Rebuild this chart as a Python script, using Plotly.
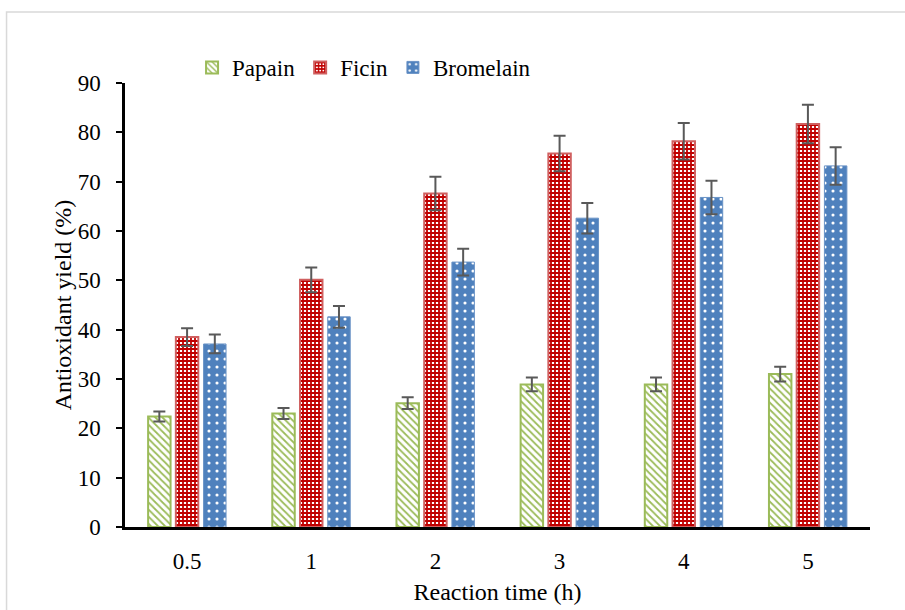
import plotly.graph_objects as go

# Reaction-time categories and mean antioxidant yields (%) with error margins
times = ["0.5", "1", "2", "3", "4", "5"]
papain = [22.4, 23.0, 25.1, 28.9, 28.9, 31.0]
papain_err = [1.0, 1.1, 1.2, 1.4, 1.4, 1.5]
ficin = [38.5, 50.1, 67.6, 75.7, 78.2, 81.7]
ficin_err = [1.8, 2.5, 3.4, 3.6, 3.7, 3.9]
bromelain = [37.1, 42.6, 53.7, 62.6, 66.8, 73.2]
bromelain_err = [1.9, 2.2, 2.7, 3.1, 3.4, 3.8]

FONT = "Liberation Serif"
ERR_COLOR = "#595959"
TICK_SIZE = 23
TITLE_SIZE = 24


def err(vals):
    return dict(type="data", array=vals, visible=True, color=ERR_COLOR,
                thickness=2, width=6)


fig = go.Figure()
fig.add_trace(go.Bar(
    name="Papain", x=times, y=papain, error_y=err(papain_err),
    marker=dict(color="#9BBB59",
                line=dict(color="#9BBB59", width=2),
                pattern=dict(shape="\\", fgcolor="#9BBB59", bgcolor="white",
                             size=5, solidity=0.35, fillmode="replace")),
))
fig.add_trace(go.Bar(
    name="Ficin", x=times, y=ficin, error_y=err(ficin_err),
    marker=dict(color="#C00000",
                line=dict(color="#D06060", width=2),
                pattern=dict(shape="+", fgcolor="#C00000", bgcolor="white",
                             size=4, solidity=0.7, fillmode="replace")),
))
fig.add_trace(go.Bar(
    name="Bromelain", x=times, y=bromelain, error_y=err(bromelain_err),
    marker=dict(color="#4F81BD",
                line=dict(color="#6A93C6", width=1),
                pattern=dict(shape=".", fgcolor="white", bgcolor="#4F81BD",
                             size=8, solidity=0.12, fillmode="replace")),
))

fig.update_layout(
    width=905, height=610,
    margin=dict(l=125, r=35, t=83, b=83),
    paper_bgcolor="white", plot_bgcolor="white",
    font=dict(family=FONT, size=TICK_SIZE, color="black"),
    barmode="group", bargap=0.33, bargroupgap=0.19,
    showlegend=True,
    legend=dict(orientation="h", x=0.09, y=1.035, xanchor="left",
                yanchor="middle", font=dict(size=TICK_SIZE, family=FONT),
                bgcolor="rgba(0,0,0,0)", itemwidth=30, tracegroupgap=0),
    xaxis=dict(
        type="category", range=[-0.5, 5.5], showline=True,
        linecolor="black", linewidth=2.5, ticks="", showgrid=False,
        tickfont=dict(size=TICK_SIZE, family=FONT), ticklabelstandoff=12,
        automargin=False,
        title=dict(text="Reaction time (h)",
                   font=dict(size=TITLE_SIZE, family=FONT), standoff=10),
    ),
    yaxis=dict(
        range=[0, 90], dtick=10, showline=True, linecolor="black",
        linewidth=2.5, ticks="outside", ticklen=6, tickwidth=1.5,
        tickcolor="black", showgrid=False, zeroline=False,
        tickfont=dict(size=TICK_SIZE, family=FONT), ticklabelstandoff=11,
        automargin=False,
        title=dict(text="Antioxidant yield (%)",
                   font=dict(size=TITLE_SIZE, family=FONT), standoff=0),
    ),
    shapes=[dict(type="rect", xref="paper", yref="paper",
                 x0=-0.159, x1=1.06, y0=-0.2, y1=1.16,
                 line=dict(color="#D9D9D9", width=1.5), layer="below")],
)

fig.write_html("out.html", config={"displayModeBar": False})
